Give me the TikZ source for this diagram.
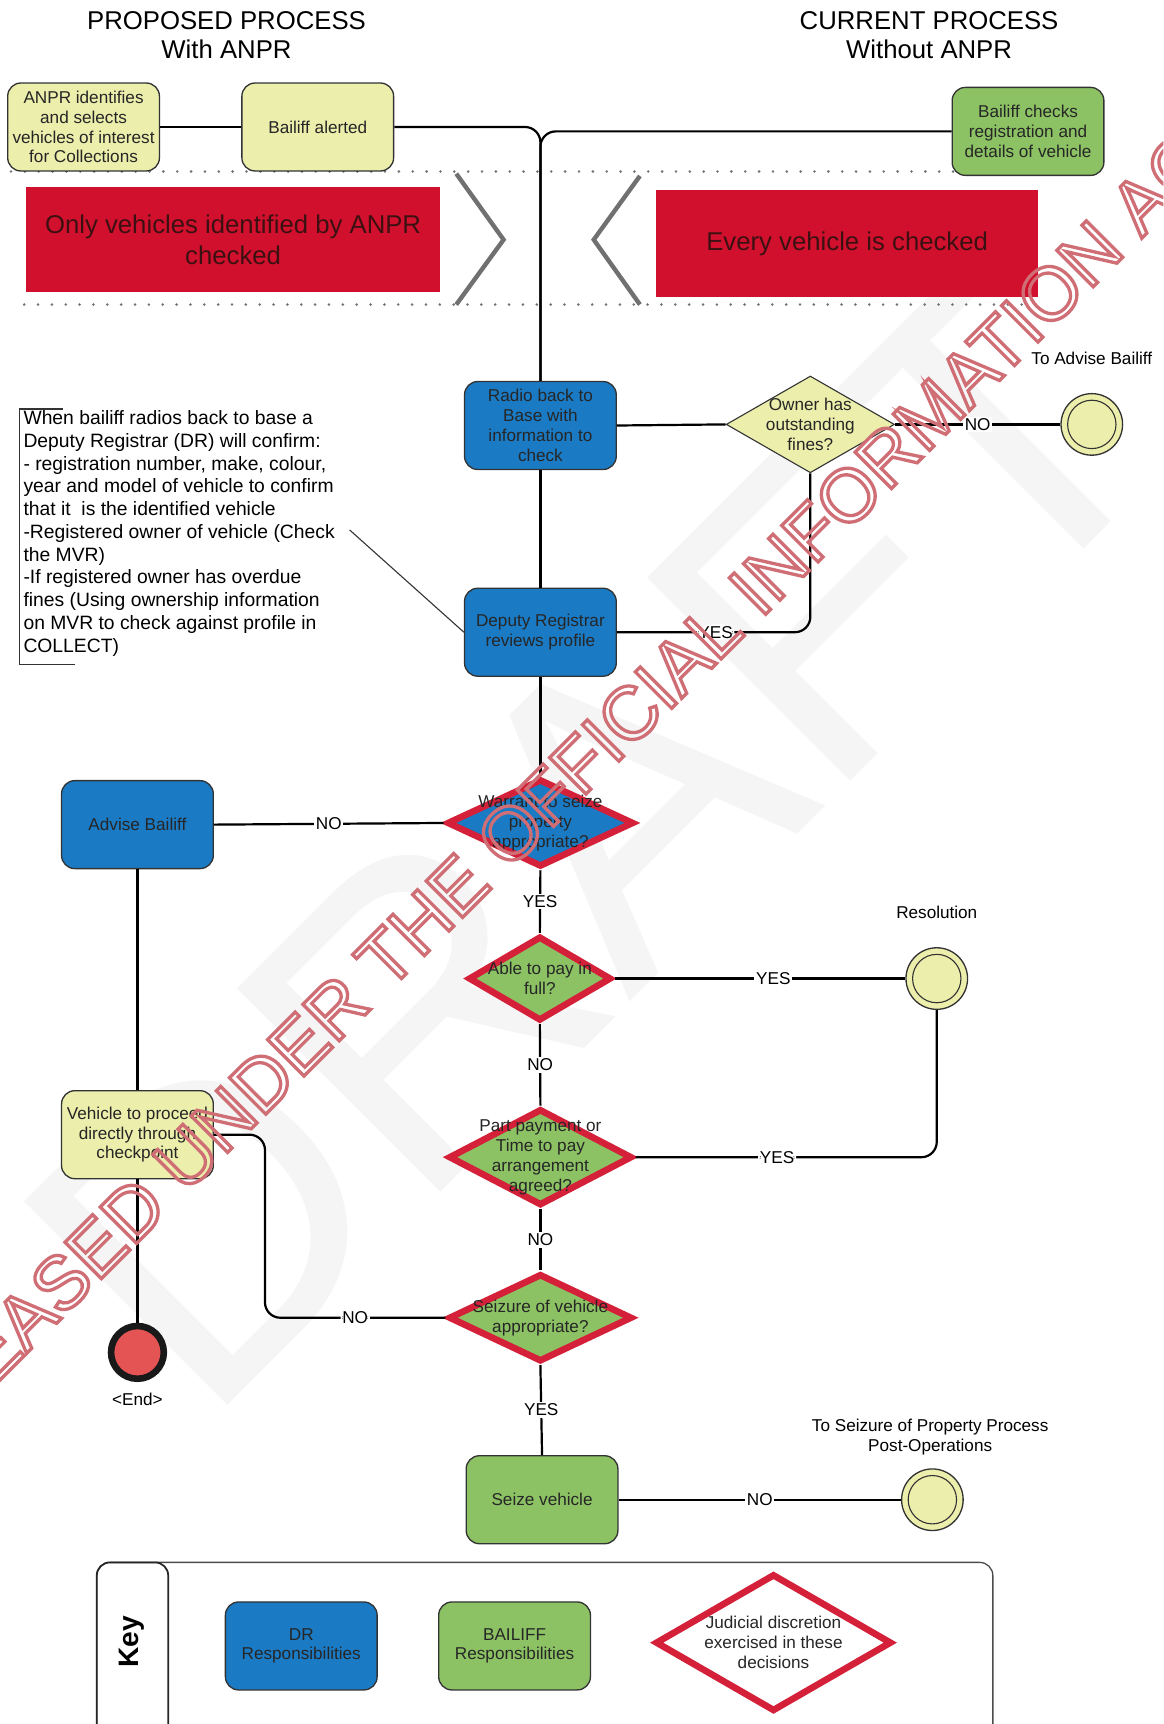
\documentclass[tikz,border=0pt]{standalone}
\usepackage{fontspec}
\setmainfont{Liberation Sans}
\usetikzlibrary{shapes.geometric}
\definecolor{pale}{RGB}{236,238,172}
\definecolor{bgreen}{RGB}{140,194,100}
\definecolor{bblue}{RGB}{26,122,196}
\definecolor{bred}{RGB}{208,16,44}
\definecolor{dred}{RGB}{212,32,56}
\definecolor{endred}{RGB}{228,84,84}
\definecolor{wmred}{RGB}{208,110,118}
\definecolor{chev}{RGB}{112,112,112}
\definecolor{redtext}{RGB}{60,16,18}
\newcommand\strokedtext[2]{\special{pdf:literal direct #1 w 1 Tr}#2\special{pdf:literal direct 0 Tr}}
\begin{document}
\begin{tikzpicture}[x=0.5pt,y=-0.5pt,
  every node/.style={font=\fontsize{7.8}{9}\selectfont},
  proc/.style={rectangle, rounded corners=6pt, draw=black!80, line width=0.6pt,
    minimum width=69pt, minimum height=40pt, align=center, inner sep=1pt, text=black!85},
  palebox/.style={proc, fill=pale},
  greenbox/.style={proc, fill=bgreen},
  bluebox/.style={proc, fill=bblue},
  dtext/.style={align=center, text=black!85, inner sep=0pt, font=\fontsize{7.8}{9}\selectfont},
  judge/.style={diamond, draw=dred, line width=3pt, inner sep=0pt},
  qpale/.style={diamond, draw=black!80, line width=0.5pt, fill=pale, inner sep=0pt},
  term/.style={circle, draw=black!80, line width=0.6pt, fill=pale, minimum size=28pt, inner sep=0pt,
    path picture={\draw[black!80, line width=0.5pt] (path picture bounding box.center) circle (11pt);}},
  conn/.style={line width=1pt, black},
  lbl/.style={fill=white, inner sep=0.8pt},
  redpanel/.style={rectangle, fill=bred, align=center, text=redtext, font=\fontsize{11.7}{14}\selectfont},
  dots/.style={draw=black!55, line width=1.3pt, line cap=round, dash pattern=on 0pt off 6.3pt},
  chevron/.style={draw=chev, line width=2pt},
  heading/.style={align=center, font=\fontsize{11.7}{13.5}\selectfont},
]
\useasboundingbox (0,0) rectangle (1058,1568);
\clip (0,0) rectangle (1058,1568);
\fill[white] (0,0) rectangle (1058,1568);

% faint DRAFT watermark
\node[rotate=45, text=black!4, font=\fontsize{190}{190}\selectfont] (draft) at (540,760) {DRAFT};

% headings
\node[heading] (h1) at (206,32) {PROPOSED PROCESS\\With ANPR};
\node[heading] (h2) at (845,32) {CURRENT PROCESS\\Without ANPR};

% dotted separators and red panels
\coordinate (d1a) at (10,156); \coordinate (d1b) at (942,156);
\coordinate (d2a) at (22,277); \coordinate (d2b) at (942,277);
\draw[dots] (d1a) -- (d1b);
\draw[dots] (d2a) -- (d2b);
\node[redpanel, minimum width=188pt, minimum height=48pt] (only) at (212,218) {Only vehicles identified by ANPR\\checked};
\node[redpanel, minimum width=173.5pt, minimum height=48.5pt] (every) at (770.5,221.5) {Every vehicle is checked};
\coordinate (c1a) at (415,158); \coordinate (c1b) at (458,218); \coordinate (c1c) at (415,277);
\coordinate (c2a) at (582,160); \coordinate (c2b) at (540,218); \coordinate (c2c) at (582,277);
\draw[chevron] (c1a) -- (c1b) -- (c1c);
\draw[chevron] (c2a) -- (c2b) -- (c2c);

% top boxes
\node[palebox] (anpr) at (76,115.5) {ANPR identifies\\and selects\\vehicles of interest\\for Collections};
\node[palebox] (alert) at (289,115.5) {Bailiff alerted};
\node[greenbox] (checks) at (935,119.5) {Bailiff checks\\registration and\\details of vehicle};

% DR steps
\node[bluebox] (radio) at (491.5,387) {Radio back to\\Base with\\information to\\check};
\node[qpale, minimum width=76.5pt, minimum height=44pt,
  label={[dtext]center:{Owner has\\outstanding\\fines?}}] (owner) at (737,386) {};
\node[term] (advc) at (993,386) {};
\node (advlbl) at (993,326) {To Advise Bailiff};
\node[bluebox] (deputy) at (491.5,575) {Deputy Registrar\\reviews profile};

% annotation
\node[anchor=north west, align=left, inner sep=0pt, font=\fontsize{8.78}{10.35}\selectfont] (note) at (21,373)
 {When bailiff radios back to base a\\Deputy Registrar (DR) will confirm:\\- registration number, make, colour,\\year and model of vehicle to confirm\\that it\ \ is the identified vehicle\\-Registered owner of vehicle (Check\\the MVR)\\-If registered owner has overdue\\fines (Using ownership information\\on MVR to check against profile in\\COLLECT)};
\coordinate (br1) at (57,372); \coordinate (br2) at (18,372); \coordinate (br3) at (18,604); \coordinate (br4) at (68,604);
\draw[line width=0.5pt, black!80] (br1) -- (br2) -- (br3) -- (br4);
\coordinate (notept) at (318,482);
\draw[line width=0.5pt, black!80] (notept) -- (deputy.west);

% decisions
\node[judge, fill=bblue, minimum width=85pt, minimum height=40pt,
  label={[dtext]center:{Warrant to seize\\property\\appropriate?}}] (warrant) at (491.5,748.5) {};
\node[bluebox] (advise) at (125,750) {Advise Bailiff};
\node[judge, fill=bgreen, minimum width=65pt, minimum height=38.5pt,
  label={[dtext]center:{Able to pay in\\full?}}] (able) at (491,890) {};
\node[term] (resc) at (852,890) {};
\node (reslbl) at (852,830) {Resolution};
\node[judge, fill=bgreen, minimum width=83.5pt, minimum height=44pt,
  label={[dtext]center:{Part payment or\\Time to pay\\arrangement\\agreed?}}] (part) at (491.5,1052.5) {};
\node[judge, fill=bgreen, minimum width=83.5pt, minimum height=40pt,
  label={[dtext]center:{Seizure of vehicle\\appropriate?}}] (seizure) at (491.5,1198.5) {};
\node[palebox] (vehicle) at (125,1032) {Vehicle to proceed\\directly through\\checkpoint};
\node[circle, fill=endred, draw=black!90, line width=3pt, minimum size=24pt, inner sep=0pt] (endc) at (125,1230) {};
\node (endlbl) at (125,1273) {\textless End\textgreater};
\node[greenbox] (seize) at (493,1364) {Seize vehicle};
\node[term] (postc) at (848,1364) {};
\node[align=center] (postlbl) at (846,1307) {To Seizure of Property Process\\Post-Operations};

% connectors
\draw[conn] (anpr) -- (alert);
\draw[conn, rounded corners=7pt] (alert.east) -| (radio.north);
\draw[conn, rounded corners=7pt] (checks.west) -| (radio.north);
\draw[conn] (radio.south) -- (deputy.north);
\draw[conn] (radio.east) -- (owner.west);
\draw[conn] (owner.east) -- node[lbl, pos=0.5]{NO} (advc.west);
\draw[conn, rounded corners=7pt] (owner.south) |- node[lbl, pos=0.745]{YES} (deputy.east);
\draw[conn] (deputy.south) -- (warrant.north);
\draw[conn] (warrant.west) -- node[lbl]{NO} (advise.east);
\draw[conn] (warrant.south) -- node[lbl]{YES} (able.north);
\draw[conn] (able.east) -- node[lbl, pos=0.546]{YES} (resc.west);
\draw[conn] (able.south) -- node[lbl]{NO} (part.north);
\draw[conn, rounded corners=7pt] (part.east) -| node[lbl, pos=0.235]{YES} (resc.south);
\draw[conn] (part.south) -- node[lbl]{NO} (seizure.north);
\draw[conn, rounded corners=7pt] (seizure.west) -- ++(-164,0) node[lbl, midway]{NO} |- (vehicle.east);
\draw[conn] (advise.south) -- (vehicle.north);
\draw[conn] (vehicle.south) -- (endc.north);
\draw[conn] (seizure.south) -- node[lbl]{YES} (seize.north);
\draw[conn] (seize.east) -- node[lbl]{NO} (postc.west);

% key
\draw[line width=0.6pt, black!70, rounded corners=6pt] (88,1421) rectangle (903,1620);
\draw[line width=0.8pt, black!85, rounded corners=6pt] (88,1421) rectangle (153,1620);
\node[rotate=90, font=\fontsize{12.8}{14}\selectfont\bfseries] (keylbl) at (120,1493) {Key};
\node[bluebox] (kdr) at (274,1497) {DR\\Responsibilities};
\node[greenbox] (kbail) at (468,1497) {BAILIFF\\Responsibilities};
\node[judge, fill=white, minimum width=107.5pt, minimum height=62.5pt,
  label={[dtext]center:{Judicial discretion\\exercised in these\\decisions}}] (kjud) at (703.5,1494) {};

% red watermark
\node[rotate=45, text=wmred, inner sep=0pt, font=\fontsize{34}{34}\selectfont] (wm) at (500,722) {\strokedtext{1.5}{RELEASED UNDER THE OFFICIAL INFORMATION ACT}};
\end{tikzpicture}
\end{document}
